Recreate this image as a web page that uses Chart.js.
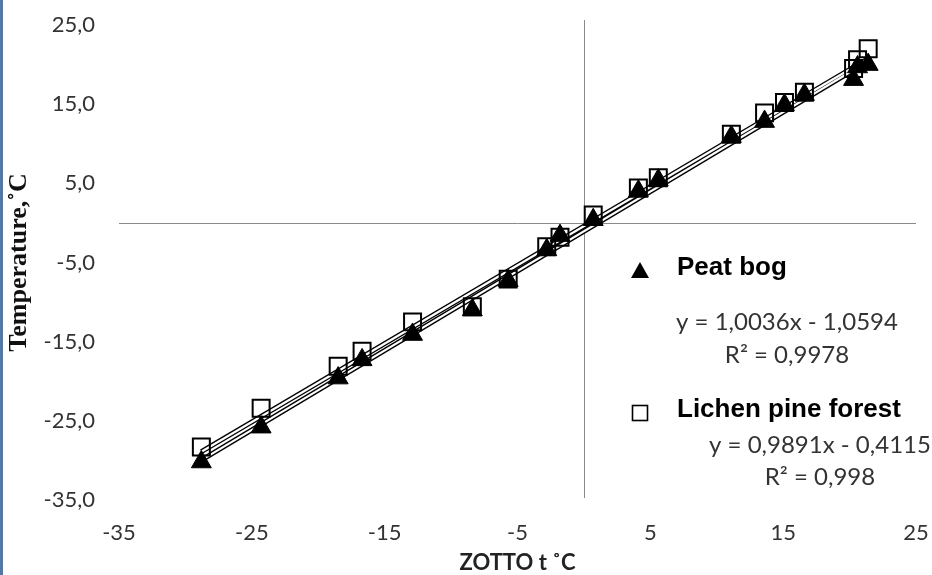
<!DOCTYPE html>
<html><head><meta charset="utf-8">
<script src="https://cdn.jsdelivr.net/npm/chart.js@4.4.0/dist/chart.umd.min.js"></script>
<style>html,body{margin:0;padding:0;background:#fff;} #wrap{width:932px;height:575px;position:relative;}</style>
</head><body><div id="wrap"><canvas id="c" width="932" height="575"></canvas></div>
<script>
// ---- data ----
const zottoT     = [-28.8,-24.3,-18.5,-16.7,-12.9,-8.4,-5.7,-2.8,-1.8,0.7,4.1,5.6,11.1,13.6,15.1,16.6,20.3,20.6,21.4];
const peatBog    = [-30.2,-25.8,-19.6,-17.3,-14.1,-11.0,-7.3,-3.4,-1.6,0.4,4.0,5.4,10.9,12.8,14.9,16.2,18.1,19.7,20.0];
const lichenPine = [-28.3,-23.4,-18.1,-16.2,-12.5,-10.6,-7.1,-3.0,-1.8,1.0,4.4,5.7,11.2,13.9,15.2,16.5,19.5,20.6,22.0];
const trendX      = [-28.8, 21.4];
const peatTrend   = [-29.96, 20.42];
const lichenTrend = [-28.90, 20.76];
const xTicks = [-35,-25,-15,-5,5,15,25];
const yTicks = [-35,-25,-15,-5,5,15,25];
const seriesNames = ['Peat bog','Lichen pine forest'];
const peatEq  = ['y = 1,0036x - 1,0594','R² = 0,9978'];
const lichenEq = ['y = 0,9891x - 0,4115','R² = 0,998'];
const xTitle = 'ZOTTO t ˚C';
const yTitle = 'Temperature,˚C';

const pts = (xs, ys) => xs.map((x,i)=>({x:x, y:ys[i]}));

const zeroLines = {
  id:'zeroLines',
  beforeDatasetsDraw(chart){
    const {ctx, chartArea:a, scales:{x,y}} = chart;
    const px = Math.round(x.getPixelForValue(0))+0.5;
    const py = Math.round(y.getPixelForValue(0))+0.5;
    ctx.save();
    ctx.strokeStyle = '#8a8a8a'; ctx.lineWidth = 1;
    ctx.beginPath();
    ctx.moveTo(px, a.top-5); ctx.lineTo(px, a.bottom-2);
    ctx.moveTo(a.left, py); ctx.lineTo(a.right, py);
    ctx.stroke();
    ctx.restore();
  }
};

const legendPlugin = {
  id:'customLegend',
  afterDraw(chart){
    const ctx = chart.ctx;
    ctx.save();
    ctx.fillStyle = '#000';
    ctx.beginPath();
    ctx.moveTo(640, 262); ctx.lineTo(649, 278); ctx.lineTo(631, 278); ctx.closePath();
    ctx.fill();
    ctx.strokeStyle = '#000'; ctx.lineWidth = 1.6;
    ctx.strokeRect(632.5, 405.5, 15, 15);
    ctx.fillStyle = '#000';
    ctx.font = 'bold 26px "Liberation Sans", Arial, sans-serif';
    ctx.textAlign = 'left'; ctx.textBaseline = 'middle';
    ctx.fillText(seriesNames[0], 677, 268);
    ctx.fillText(seriesNames[1], 677, 410);
    ctx.fillStyle = '#333';
    ctx.font = '24px Lato, "Open Sans", sans-serif';
    ctx.textAlign = 'center';
    ctx.fillText(peatEq[0], 787, 322);
    ctx.fillText(peatEq[1], 787, 355);
    ctx.fillText(lichenEq[0], 820, 445);
    ctx.fillText(lichenEq[1], 820, 477);
    ctx.fillStyle = '#5478a6';
    ctx.fillRect(0, 0, 3, 575);
    ctx.restore();
  }
};

const tickFont = {family:'Lato, "Open Sans", sans-serif', size:22};

new Chart(document.getElementById('c'), {
  type:'scatter',
  data:{
    datasets:[
      {label:seriesNames[0], data:pts(zottoT, peatBog), pointStyle:'triangle', pointRadius:11.5,
       backgroundColor:'#000', borderColor:'#000', borderWidth:1, showLine:false, order:1},
      {label:seriesNames[1], data:pts(zottoT, lichenPine), pointStyle:'rect', pointRadius:12,
       backgroundColor:'rgba(0,0,0,0)', borderColor:'#000', borderWidth:2, showLine:false, order:2},
      {label:'peatTrendOuter', data:pts(trendX, peatTrend), showLine:true, pointRadius:0,
       borderColor:'#000', borderWidth:5, order:6},
      {label:'lichenTrendOuter', data:pts(trendX, lichenTrend), showLine:true, pointRadius:0,
       borderColor:'#000', borderWidth:5, order:6},
      {label:'peatTrendInner', data:pts(trendX, peatTrend), showLine:true, pointRadius:0,
       borderColor:'#fff', borderWidth:2.2, order:5},
      {label:'lichenTrendInner', data:pts(trendX, lichenTrend), showLine:true, pointRadius:0,
       borderColor:'#fff', borderWidth:2.2, order:5}
    ]
  },
  options:{
    responsive:false, animation:false, events:[],
    layout:{padding:{left:0, right:16, top:25, bottom:0}},
    plugins:{legend:{display:false}, tooltip:{enabled:false}},
    scales:{
      x:{
        type:'linear', min:-35, max:25,
        afterBuildTicks: s => { s.ticks = xTicks.map(v=>({value:v})); },
        afterFit: s => { s.height = 75; },
        grid:{display:false, drawTicks:true, tickLength:20}, border:{display:false},
        ticks:{font:tickFont, color:'#333', padding:0, maxRotation:0, autoSkip:false,
               callback: v => String(v)},
        title:{display:true, text:xTitle, color:'#222',
               font:{family:'Lato, "Open Sans", sans-serif', size:22, weight:'bold', lineHeight:1},
               padding:{top:0, bottom:1}}
      },
      y:{
        type:'linear', min:-35, max:25,
        afterBuildTicks: s => { s.ticks = yTicks.map(v=>({value:v})); },
        afterFit: s => { s.width = 119; },
        grid:{display:false, drawTicks:true, tickLength:24}, border:{display:false},
        ticks:{font:tickFont, color:'#333', padding:0, autoSkip:false,
               callback: v => v.toFixed(1).replace('.', ',')},
        title:{display:true, text:yTitle, color:'#111',
               font:{family:'"Liberation Serif", "Times New Roman", serif', size:26, weight:'bold', lineHeight:1},
               padding:{top:6, bottom:0}}
      }
    }
  },
  plugins:[zeroLines, legendPlugin]
});
</script>
</body></html>
